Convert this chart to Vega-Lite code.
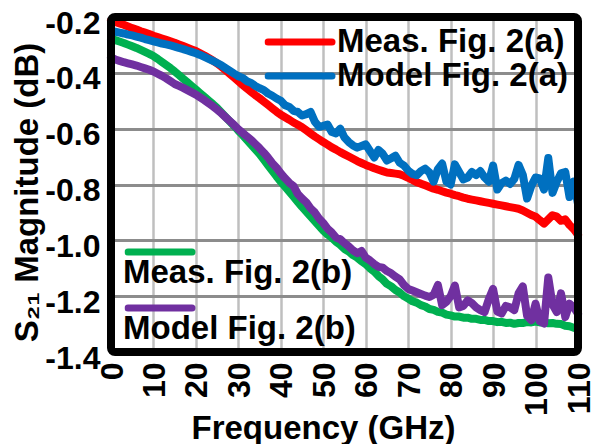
{
  "$schema": "https://vega.github.io/schema/vega-lite/v6.json",
  "width": 467,
  "height": 335,
  "autosize": {"type": "none"},
  "padding": {"left": 111, "top": 17, "right": 18, "bottom": 92},
  "background": "white",
  "config": {
    "font": "Liberation Sans",
    "view": {"stroke": null},
    "axis": {
      "labelFont": "Liberation Sans", "labelFontWeight": "bold", "labelFontSize": 32, "labelColor": "black",
      "titleFont": "Liberation Sans", "titleFontWeight": "bold", "titleFontSize": 33, "titleColor": "black",
      "domain": false, "ticks": false, "tickSize": 0, "labelFlush": false, "labelOverlap": false
    },
    "legend": {
      "labelFont": "Liberation Sans", "labelFontWeight": "bold", "labelFontSize": 33, "labelColor": "black",
      "labelLimit": 400, "symbolType": "stroke", "symbolSize": 4096, "symbolStrokeWidth": 7,
      "padding": 0, "rowPadding": 0, "orient": "none"
    }
  },
  "datasets": {
    "curves": [
    {"f":0,"ma":-0.212,"oa":-0.250,"mb":-0.278,"ob":-0.345},
    {"f":1,"ma":-0.218,"oa":-0.253,"mb":-0.283,"ob":-0.352},
    {"f":2,"ma":-0.223,"oa":-0.256,"mb":-0.288,"ob":-0.357},
    {"f":3,"ma":-0.228,"oa":-0.259,"mb":-0.293,"ob":-0.362},
    {"f":4,"ma":-0.234,"oa":-0.263,"mb":-0.299,"ob":-0.366},
    {"f":5,"ma":-0.240,"oa":-0.266,"mb":-0.305,"ob":-0.370},
    {"f":6,"ma":-0.245,"oa":-0.270,"mb":-0.311,"ob":-0.374},
    {"f":7,"ma":-0.251,"oa":-0.274,"mb":-0.318,"ob":-0.379},
    {"f":8,"ma":-0.256,"oa":-0.279,"mb":-0.325,"ob":-0.384},
    {"f":9,"ma":-0.261,"oa":-0.283,"mb":-0.332,"ob":-0.389},
    {"f":10,"ma":-0.267,"oa":-0.287,"mb":-0.340,"ob":-0.395},
    {"f":11,"ma":-0.272,"oa":-0.291,"mb":-0.350,"ob":-0.403},
    {"f":12,"ma":-0.277,"oa":-0.295,"mb":-0.361,"ob":-0.411},
    {"f":13,"ma":-0.282,"oa":-0.298,"mb":-0.372,"ob":-0.420},
    {"f":14,"ma":-0.287,"oa":-0.302,"mb":-0.383,"ob":-0.430},
    {"f":15,"ma":-0.292,"oa":-0.306,"mb":-0.395,"ob":-0.440},
    {"f":16,"ma":-0.298,"oa":-0.311,"mb":-0.408,"ob":-0.447},
    {"f":17,"ma":-0.304,"oa":-0.315,"mb":-0.421,"ob":-0.454},
    {"f":18,"ma":-0.310,"oa":-0.320,"mb":-0.434,"ob":-0.462},
    {"f":19,"ma":-0.316,"oa":-0.325,"mb":-0.447,"ob":-0.470},
    {"f":20,"ma":-0.322,"oa":-0.330,"mb":-0.460,"ob":-0.478},
    {"f":21,"ma":-0.330,"oa":-0.336,"mb":-0.473,"ob":-0.488},
    {"f":22,"ma":-0.338,"oa":-0.343,"mb":-0.486,"ob":-0.498},
    {"f":23,"ma":-0.347,"oa":-0.350,"mb":-0.499,"ob":-0.509},
    {"f":24,"ma":-0.356,"oa":-0.357,"mb":-0.512,"ob":-0.520},
    {"f":25,"ma":-0.366,"oa":-0.365,"mb":-0.526,"ob":-0.532},
    {"f":26,"ma":-0.378,"oa":-0.373,"mb":-0.542,"ob":-0.545},
    {"f":27,"ma":-0.391,"oa":-0.383,"mb":-0.558,"ob":-0.559},
    {"f":28,"ma":-0.404,"oa":-0.393,"mb":-0.574,"ob":-0.573},
    {"f":29,"ma":-0.417,"oa":-0.403,"mb":-0.590,"ob":-0.587},
    {"f":30,"ma":-0.430,"oa":-0.412,"mb":-0.607,"ob":-0.602},
    {"f":31,"ma":-0.443,"oa":-0.418,"mb":-0.623,"ob":-0.615},
    {"f":32,"ma":-0.456,"oa":-0.430,"mb":-0.640,"ob":-0.628},
    {"f":33,"ma":-0.468,"oa":-0.436,"mb":-0.657,"ob":-0.640},
    {"f":34,"ma":-0.480,"oa":-0.447,"mb":-0.674,"ob":-0.655},
    {"f":35,"ma":-0.491,"oa":-0.455,"mb":-0.691,"ob":-0.670},
    {"f":36,"ma":-0.503,"oa":-0.462,"mb":-0.711,"ob":-0.686},
    {"f":37,"ma":-0.515,"oa":-0.474,"mb":-0.731,"ob":-0.704},
    {"f":38,"ma":-0.527,"oa":-0.482,"mb":-0.751,"ob":-0.724},
    {"f":39,"ma":-0.539,"oa":-0.492,"mb":-0.771,"ob":-0.740},
    {"f":40,"ma":-0.550,"oa":-0.500,"mb":-0.790,"ob":-0.760},
    {"f":41,"ma":-0.559,"oa":-0.516,"mb":-0.808,"ob":-0.778},
    {"f":42,"ma":-0.568,"oa":-0.522,"mb":-0.826,"ob":-0.794},
    {"f":43,"ma":-0.578,"oa":-0.536,"mb":-0.844,"ob":-0.806},
    {"f":44,"ma":-0.586,"oa":-0.540,"mb":-0.862,"ob":-0.834},
    {"f":45,"ma":-0.595,"oa":-0.553,"mb":-0.880,"ob":-0.850},
    {"f":46,"ma":-0.606,"oa":-0.548,"mb":-0.897,"ob":-0.864},
    {"f":47,"ma":-0.617,"oa":-0.540,"mb":-0.914,"ob":-0.885},
    {"f":48,"ma":-0.628,"oa":-0.575,"mb":-0.931,"ob":-0.900},
    {"f":49,"ma":-0.638,"oa":-0.593,"mb":-0.948,"ob":-0.922},
    {"f":50,"ma":-0.648,"oa":-0.590,"mb":-0.965,"ob":-0.938},
    {"f":51,"ma":-0.657,"oa":-0.585,"mb":-0.979,"ob":-0.958},
    {"f":52,"ma":-0.667,"oa":-0.612,"mb":-0.990,"ob":-0.972},
    {"f":53,"ma":-0.675,"oa":-0.617,"mb":-1.005,"ob":-0.990},
    {"f":54,"ma":-0.684,"oa":-0.600,"mb":-1.016,"ob":-0.996},
    {"f":55,"ma":-0.692,"oa":-0.632,"mb":-1.031,"ob":-1.010},
    {"f":56,"ma":-0.700,"oa":-0.648,"mb":-1.040,"ob":-1.022},
    {"f":57,"ma":-0.708,"oa":-0.660,"mb":-1.053,"ob":-1.036},
    {"f":58,"ma":-0.716,"oa":-0.668,"mb":-1.062,"ob":-1.046},
    {"f":59,"ma":-0.723,"oa":-0.662,"mb":-1.075,"ob":-1.038},
    {"f":60,"ma":-0.730,"oa":-0.656,"mb":-1.085,"ob":-1.062},
    {"f":61,"ma":-0.736,"oa":-0.680,"mb":-1.100,"ob":-1.072},
    {"f":62,"ma":-0.742,"oa":-0.703,"mb":-1.112,"ob":-1.085},
    {"f":63,"ma":-0.747,"oa":-0.676,"mb":-1.128,"ob":-1.095},
    {"f":64,"ma":-0.752,"oa":-0.690,"mb":-1.140,"ob":-1.098},
    {"f":65,"ma":-0.757,"oa":-0.714,"mb":-1.156,"ob":-1.110},
    {"f":66,"ma":-0.759,"oa":-0.706,"mb":-1.165,"ob":-1.118},
    {"f":67,"ma":-0.761,"oa":-0.697,"mb":-1.178,"ob":-1.130},
    {"f":68,"ma":-0.763,"oa":-0.722,"mb":-1.187,"ob":-1.140},
    {"f":69,"ma":-0.769,"oa":-0.732,"mb":-1.200,"ob":-1.160},
    {"f":70,"ma":-0.776,"oa":-0.750,"mb":-1.209,"ob":-1.174},
    {"f":71,"ma":-0.784,"oa":-0.762,"mb":-1.218,"ob":-1.180},
    {"f":72,"ma":-0.792,"oa":-0.767,"mb":-1.223,"ob":-1.186},
    {"f":73,"ma":-0.797,"oa":-0.752,"mb":-1.232,"ob":-1.192},
    {"f":74,"ma":-0.803,"oa":-0.743,"mb":-1.237,"ob":-1.198},
    {"f":75,"ma":-0.809,"oa":-0.757,"mb":-1.246,"ob":-1.203},
    {"f":76,"ma":-0.815,"oa":-0.790,"mb":-1.249,"ob":-1.195},
    {"f":77,"ma":-0.819,"oa":-0.745,"mb":-1.256,"ob":-1.160},
    {"f":78,"ma":-0.824,"oa":-0.725,"mb":-1.259,"ob":-1.232},
    {"f":79,"ma":-0.829,"oa":-0.790,"mb":-1.266,"ob":-1.220},
    {"f":80,"ma":-0.833,"oa":-0.800,"mb":-1.269,"ob":-1.200},
    {"f":81,"ma":-0.838,"oa":-0.728,"mb":-1.273,"ob":-1.162},
    {"f":82,"ma":-0.842,"oa":-0.755,"mb":-1.273,"ob":-1.240},
    {"f":83,"ma":-0.847,"oa":-0.782,"mb":-1.277,"ob":-1.235},
    {"f":84,"ma":-0.851,"oa":-0.775,"mb":-1.277,"ob":-1.215},
    {"f":85,"ma":-0.854,"oa":-0.755,"mb":-1.281,"ob":-1.225},
    {"f":86,"ma":-0.857,"oa":-0.766,"mb":-1.281,"ob":-1.240},
    {"f":87,"ma":-0.860,"oa":-0.752,"mb":-1.285,"ob":-1.250},
    {"f":88,"ma":-0.863,"oa":-0.775,"mb":-1.285,"ob":-1.257},
    {"f":89,"ma":-0.866,"oa":-0.790,"mb":-1.289,"ob":-1.210},
    {"f":90,"ma":-0.869,"oa":-0.732,"mb":-1.289,"ob":-1.174},
    {"f":91,"ma":-0.872,"oa":-0.818,"mb":-1.293,"ob":-1.255},
    {"f":92,"ma":-0.875,"oa":-0.795,"mb":-1.292,"ob":-1.262},
    {"f":93,"ma":-0.878,"oa":-0.786,"mb":-1.296,"ob":-1.235},
    {"f":94,"ma":-0.881,"oa":-0.798,"mb":-1.295,"ob":-1.240},
    {"f":95,"ma":-0.884,"oa":-0.780,"mb":-1.299,"ob":-1.250},
    {"f":96,"ma":-0.887,"oa":-0.730,"mb":-1.296,"ob":-1.190},
    {"f":97,"ma":-0.893,"oa":-0.765,"mb":-1.296,"ob":-1.165},
    {"f":98,"ma":-0.901,"oa":-0.850,"mb":-1.293,"ob":-1.270},
    {"f":99,"ma":-0.909,"oa":-0.805,"mb":-1.294,"ob":-1.286},
    {"f":100,"ma":-0.915,"oa":-0.775,"mb":-1.291,"ob":-1.227},
    {"f":101,"ma":-0.928,"oa":-0.778,"mb":-1.294,"ob":-1.290},
    {"f":102,"ma":-0.940,"oa":-0.818,"mb":-1.294,"ob":-1.298},
    {"f":103,"ma":-0.925,"oa":-0.705,"mb":-1.297,"ob":-1.133},
    {"f":104,"ma":-0.910,"oa":-0.830,"mb":-1.296,"ob":-1.230},
    {"f":105,"ma":-0.915,"oa":-0.790,"mb":-1.299,"ob":-1.257},
    {"f":106,"ma":-0.930,"oa":-0.760,"mb":-1.300,"ob":-1.190},
    {"f":107,"ma":-0.925,"oa":-0.755,"mb":-1.306,"ob":-1.275},
    {"f":108,"ma":-0.945,"oa":-0.845,"mb":-1.308,"ob":-1.227},
    {"f":109,"ma":-0.960,"oa":-0.790,"mb":-1.313,"ob":-1.240},
    {"f":110,"ma":-0.980,"oa":-0.870,"mb":-1.316,"ob":-1.263}
    ]
  },
  "layer": [
    {
      "data": {"name": "curves"},
      "transform": [{"fold": ["ma", "oa"], "as": ["s", "v"]}],
      "mark": {"type": "line", "strokeWidth": 8, "strokeCap": "round", "strokeJoin": "round"},
      "encoding": {
        "x": {
          "field": "f", "type": "quantitative",
          "scale": {"domain": [0, 110], "nice": false},
          "axis": {
            "values": [0, 10, 20, 30, 40, 50, 60, 70, 80, 90, 100, 110],
            "labelAngle": -90, "labelAlign": "right", "labelBaseline": "middle",
            "labelPadding": 10, "labelOffset": 1,
            "title": "Frequency (GHz)", "titleX": 212, "titleY": 86,
            "titleBaseline": "alphabetic", "titleAlign": "center",
            "grid": true, "gridColor": "#bfbfbf", "gridWidth": 2.5
          }
        },
        "y": {
          "field": "v", "type": "quantitative",
          "scale": {"domain": [-1.4, -0.2], "nice": false, "zero": false},
          "axis": {
            "values": [-1.4, -1.2, -1.0, -0.8, -0.6, -0.4, -0.2],
            "labelExpr": "replace(format(datum.value, '.1f'), '\u2212', '-')",
            "labelPadding": 11, "labelOffset": 6,
            "title": "S₂₁ Magnitude (dB)", "titleX": -73.5, "titleY": 175,
            "titleAngle": -90, "titleBaseline": "alphabetic", "titleAlign": "center",
            "grid": true, "gridColor": "#8c8c8c", "gridWidth": 3
          }
        },
        "color": {
          "field": "s", "type": "nominal",
          "scale": {"domain": ["ma", "oa"], "range": ["#ff0000", "#0070c0"]},
          "legend": {
            "title": null, "orient": "none", "legendX": 153.5, "legendY": 8.5,
            "clipHeight": 33, "labelOffset": 1.5, "labelBaseline": "middle",
            "labelExpr": "datum.label == 'ma' ? 'Meas. Fig. 2(a)' : 'Model Fig. 2(a)'",
            "encode": {"symbols": {"update": {"strokeCap": {"value": "round"}}}}
          }
        }
      }
    },
    {
      "data": {"name": "curves"},
      "transform": [{"fold": ["mb", "ob"], "as": ["s", "v"]}],
      "mark": {"type": "line", "strokeWidth": 8, "strokeCap": "round", "strokeJoin": "round"},
      "encoding": {
        "x": {"field": "f", "type": "quantitative"},
        "y": {"field": "v", "type": "quantitative"},
        "stroke": {
          "field": "s", "type": "nominal",
          "scale": {"domain": ["mb", "ob"], "range": ["#00b050", "#7030a0"]},
          "legend": {
            "title": null, "orient": "none", "legendX": 13.5, "legendY": 217.6,
            "clipHeight": 34.8, "labelOffset": -72.5, "labelBaseline": "alphabetic",
            "labelExpr": "datum.label == 'mb' ? 'Meas. Fig. 2(b)' : 'Model Fig. 2(b)'",
            "encode": {
              "symbols": {"update": {"strokeCap": {"value": "round"}}},
              "labels": {"update": {"dy": {"value": 31}}}
            }
          }
        }
      }
    },
    {
      "data": {"values": [{}]},
      "mark": {"type": "rect", "filled": false, "stroke": "black", "strokeWidth": 8, "cornerRadius": 4},
      "encoding": {
        "x": {"datum": 0, "type": "quantitative"},
        "x2": {"datum": 110},
        "y": {"datum": -1.4, "type": "quantitative"},
        "y2": {"datum": -0.2}
      }
    }
  ]
}
